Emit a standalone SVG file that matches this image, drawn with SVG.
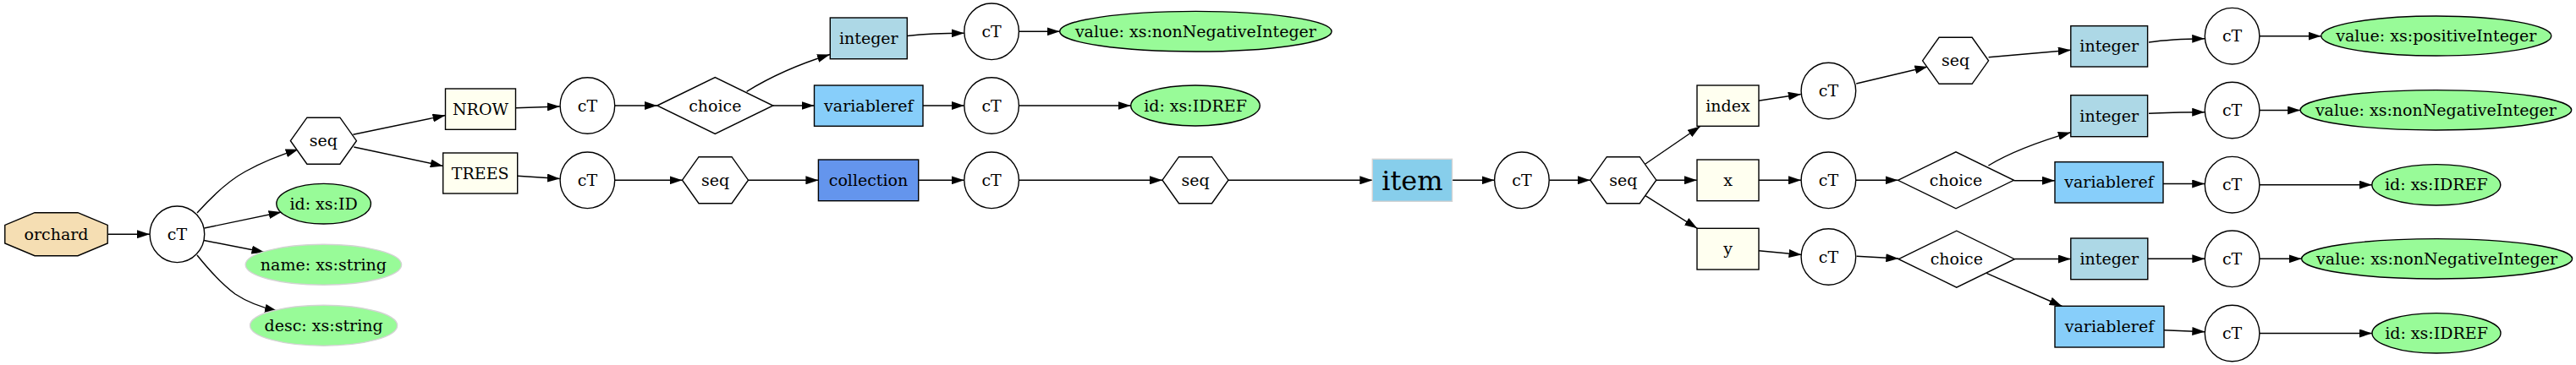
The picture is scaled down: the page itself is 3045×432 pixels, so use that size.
<svg xmlns="http://www.w3.org/2000/svg" width="3045" height="432" viewBox="0 0 3045 432">
<style>
.s{stroke:#000;stroke-width:1.4;fill:#fff}
.g{fill:#98fb98;stroke:#000;stroke-width:1.4}
.go{fill:#98fb98;stroke:#d3d3d3;stroke-width:1.4}
.iv{fill:#fffff0;stroke:#000;stroke-width:1.4}
.lb{fill:#add8e6;stroke:#000;stroke-width:1.4}
.sk{fill:#87cefa;stroke:#000;stroke-width:1.4}
.cf{fill:#6495ed;stroke:#000;stroke-width:1.4}
.it{fill:#87ceeb;stroke:#d3d3d3;stroke-width:1.4}
.wh{fill:#f5deb3;stroke:#000;stroke-width:1.4}
text{font-family:"DejaVu Serif","Liberation Serif",serif;font-size:19px;text-anchor:middle;fill:#000}
.big{font-size:32px}
#edges path{fill:none;stroke:#000;stroke-width:1.4;marker-end:url(#a)}
</style>
<defs>
<marker id="a" viewBox="0 0 15 10" refX="15" refY="5" markerWidth="15" markerHeight="10" markerUnits="userSpaceOnUse" orient="auto">
<path d="M0,0 L15,5 L0,10 z" fill="#000"/>
</marker>
</defs>
<rect width="3045" height="432" fill="#fff"/>
<g id="edges">
<path d="M127.5,277.2 L177,277.2"/>
<path d="M233,252 C250,233 268,215 290,203 C308,193 330,184 352.7,176.7"/>
<path d="M241.5,270 L332.6,251"/>
<path d="M241,284.5 L312.5,298.5"/>
<path d="M233,302 C249,322 262,336 278,348 C293,358 310,364 328,368.3"/>
<path d="M417.4,159.3 L526.5,136.5"/>
<path d="M418.3,174 L523.7,196.5"/>
<path d="M609.5,127.7 L661.8,126"/>
<path d="M611.8,208.3 L661.8,211.5"/>
<path d="M727,125 L776.8,125"/>
<path d="M727,213.3 L806.5,213.3"/>
<path d="M882.6,108.3 Q925,82 981,64.5"/>
<path d="M913.8,125 L962.5,125"/>
<path d="M884.5,213.3 L967.4,213.3"/>
<path d="M1072.3,42.5 C1095,40 1115,39.3 1139.7,39.3"/>
<path d="M1091,125 L1139.7,125"/>
<path d="M1085.7,213.3 L1139.7,213.3"/>
<path d="M1204.5,37.3 L1252.7,37.3"/>
<path d="M1204.5,125 L1336.6,125"/>
<path d="M1204.5,213.3 L1374,213.3"/>
<path d="M1452,213.3 L1622.3,213.3"/>
<path d="M1716.5,213.3 L1766.5,213.3"/>
<path d="M1831.3,213.3 L1879.8,213.3"/>
<path d="M1945,194 L2009.8,149.5"/>
<path d="M1957.8,213.3 L2005.8,213.3"/>
<path d="M1945,231.7 L2006.3,270.3"/>
<path d="M2078.6,119.3 L2128.8,111.5"/>
<path d="M2079,213.3 L2129,213.3"/>
<path d="M2079,296.7 L2129.5,301.5"/>
<path d="M2194.2,99 L2278.5,79"/>
<path d="M2193.8,213.3 L2243.5,213.3"/>
<path d="M2194.6,303.3 L2244.3,306"/>
<path d="M2350.6,67.7 L2447.8,59.3"/>
<path d="M2350.4,196 C2372,183 2402,170 2447.8,156.7"/>
<path d="M2380.5,213.8 L2429,213.8"/>
<path d="M2381.3,306.5 L2447.8,306.5"/>
<path d="M2348.3,323.3 L2437.5,362.5"/>
<path d="M2540,50 C2560,47 2580,46 2606.2,45.7"/>
<path d="M2540,134.3 C2560,133 2580,132.7 2606.2,132.7"/>
<path d="M2557,217.5 L2606.2,217.5"/>
<path d="M2538.8,306.3 L2606.3,306.3"/>
<path d="M2558.1,390.7 L2606.3,392.7"/>
<path d="M2670.9,42.7 L2743.7,42.7"/>
<path d="M2670.9,130.5 L2719.1,130.5"/>
<path d="M2670.9,218.7 L2803.9,218.7"/>
<path d="M2670.8,306.3 L2720.7,306.3"/>
<path d="M2670.8,394.5 L2804,394.5"/>
</g>
<g id="n1"><polygon class="wh" points="41,251.7 92,251.7 127.2,266.4 127.2,288 92,302.7 41,302.7 5.8,288 5.8,266.4"/><text x="66.5" y="283.7">orchard</text></g>
<g id="n2"><ellipse class="s" cx="209.4" cy="277.3" rx="32.3" ry="33.3"/><text x="209.4" y="283.8">cT</text></g>
<g id="n3"><polygon class="s" points="343.4,166.7 362.9,139.2 401.9,139.2 421.4,166.7 401.9,194.2 362.9,194.2"/><text x="382.4" y="173.2">seq</text></g>
<g id="n4"><ellipse class="g" cx="382.6" cy="241.2" rx="55.8" ry="23.8"/><text x="382.6" y="247.7">id: xs:ID</text></g>
<g id="n5"><ellipse class="go" cx="382.4" cy="313.3" rx="92.2" ry="24"/><text x="382.4" y="319.8">name: xs:string</text></g>
<g id="n6"><ellipse class="go" cx="382.6" cy="385.2" rx="87" ry="24"/><text x="382.6" y="391.7">desc: xs:string</text></g>
<g id="n7"><rect class="iv" x="526.5" y="105" width="83" height="48.3"/><text x="568" y="135.7">NROW</text></g>
<g id="n8"><rect class="iv" x="523.7" y="181" width="88" height="48"/><text x="567.7" y="211.5">TREES</text></g>
<g id="n9"><ellipse class="s" cx="694.4" cy="125" rx="32.3" ry="33.3"/><text x="694.4" y="131.5">cT</text></g>
<g id="n10"><ellipse class="s" cx="694.4" cy="213.3" rx="32.3" ry="33.3"/><text x="694.4" y="219.8">cT</text></g>
<g id="n11"><polygon class="s" points="776.8,125 845.3,91.5 913.8,125 845.3,158.5"/><text x="845.3" y="131.5">choice</text></g>
<g id="n12"><polygon class="s" points="806.5,213.2 826,185.7 865,185.7 884.5,213.2 865,240.7 826,240.7"/><text x="845.5" y="219.7">seq</text></g>
<g id="n13"><rect class="lb" x="981.3" y="21" width="91" height="48.7"/><text x="1026.8" y="51.8">integer</text></g>
<g id="n14"><rect class="sk" x="962.5" y="101" width="128.5" height="48.3"/><text x="1026.8" y="131.7">variableref</text></g>
<g id="n15"><rect class="cf" x="967.4" y="189" width="118.3" height="48.7"/><text x="1026.5" y="219.8">collection</text></g>
<g id="n16"><ellipse class="s" cx="1172.1" cy="37.3" rx="32.3" ry="33.3"/><text x="1172.1" y="43.8">cT</text></g>
<g id="n17"><ellipse class="s" cx="1172.1" cy="125" rx="32.3" ry="33.3"/><text x="1172.1" y="131.5">cT</text></g>
<g id="n18"><ellipse class="s" cx="1172.1" cy="213.3" rx="32.3" ry="33.3"/><text x="1172.1" y="219.8">cT</text></g>
<g id="n19"><ellipse class="g" cx="1413.4" cy="37.2" rx="160.7" ry="23.8"/><text x="1413.4" y="43.7">value: xs:nonNegativeInteger</text></g>
<g id="n20"><ellipse class="g" cx="1413" cy="125" rx="76.3" ry="24"/><text x="1413" y="131.5">id: xs:IDREF</text></g>
<g id="n21"><polygon class="s" points="1374,213.2 1393.5,185.7 1432.5,185.7 1452,213.2 1432.5,240.7 1393.5,240.7"/><text x="1413" y="219.7">seq</text></g>
<g id="n22"><rect class="it" x="1622.3" y="188.3" width="94.2" height="50"/><text class="big" x="1669.4" y="224.5">item</text></g>
<g id="n23"><ellipse class="s" cx="1798.9" cy="213.3" rx="32.3" ry="33.3"/><text x="1798.9" y="219.8">cT</text></g>
<g id="n24"><polygon class="s" points="1879.8,213.2 1899.3,185.7 1938.3,185.7 1957.8,213.2 1938.3,240.7 1899.3,240.7"/><text x="1918.8" y="219.7">seq</text></g>
<g id="n25"><rect class="iv" x="2006" y="101" width="73" height="48.3"/><text x="2042.5" y="131.7">index</text></g>
<g id="n26"><rect class="iv" x="2006" y="189" width="73" height="48.7"/><text x="2042.5" y="219.8">x</text></g>
<g id="n27"><rect class="iv" x="2006" y="270.3" width="73" height="48.7"/><text x="2042.5" y="301.1">y</text></g>
<g id="n28"><ellipse class="s" cx="2161.4" cy="107.5" rx="32.3" ry="33.3"/><text x="2161.4" y="114">cT</text></g>
<g id="n29"><ellipse class="s" cx="2161.4" cy="213.3" rx="32.3" ry="33.3"/><text x="2161.4" y="219.8">cT</text></g>
<g id="n30"><ellipse class="s" cx="2161.4" cy="304" rx="32.3" ry="33.3"/><text x="2161.4" y="310.5">cT</text></g>
<g id="n31"><polygon class="s" points="2272.6,71.8 2292.1,44.3 2331.1,44.3 2350.6,71.8 2331.1,99.3 2292.1,99.3"/><text x="2311.6" y="78.3">seq</text></g>
<g id="n32"><polygon class="s" points="2243.5,213.3 2312,179.8 2380.5,213.3 2312,246.8"/><text x="2312" y="219.8">choice</text></g>
<g id="n33"><polygon class="s" points="2244.3,306.7 2312.8,273.2 2381.3,306.7 2312.8,340.2"/><text x="2312.8" y="313.2">choice</text></g>
<g id="n34"><rect class="lb" x="2447.8" y="30.7" width="90.8" height="48.3"/><text x="2493.2" y="61.3">integer</text></g>
<g id="n35"><rect class="lb" x="2447.8" y="112.7" width="90.8" height="49"/><text x="2493.2" y="143.7">integer</text></g>
<g id="n36"><rect class="sk" x="2429" y="191.7" width="128" height="48.3"/><text x="2493" y="222.3">variableref</text></g>
<g id="n37"><rect class="lb" x="2447.8" y="282" width="91" height="48.7"/><text x="2493.3" y="312.8">integer</text></g>
<g id="n38"><rect class="sk" x="2429" y="362.3" width="129" height="48.7"/><text x="2493.5" y="393.2">variableref</text></g>
<g id="n39"><ellipse class="s" cx="2638.6" cy="42.7" rx="32.3" ry="33.3"/><text x="2638.6" y="49.2">cT</text></g>
<g id="n40"><ellipse class="s" cx="2638.6" cy="130.5" rx="32.3" ry="33.3"/><text x="2638.6" y="137">cT</text></g>
<g id="n41"><ellipse class="s" cx="2638.6" cy="218.7" rx="32.3" ry="33.3"/><text x="2638.6" y="225.2">cT</text></g>
<g id="n42"><ellipse class="s" cx="2638.6" cy="306.3" rx="32.3" ry="33.3"/><text x="2638.6" y="312.8">cT</text></g>
<g id="n43"><ellipse class="s" cx="2638.6" cy="394.5" rx="32.3" ry="33.3"/><text x="2638.6" y="401">cT</text></g>
<g id="n44"><ellipse class="g" cx="2879.8" cy="42.5" rx="136" ry="23.5"/><text x="2879.8" y="49">value: xs:positiveInteger</text></g>
<g id="n45"><ellipse class="g" cx="2879.4" cy="130.3" rx="160.3" ry="23.7"/><text x="2879.4" y="136.8">value: xs:nonNegativeInteger</text></g>
<g id="n46"><ellipse class="g" cx="2879.8" cy="218.8" rx="76" ry="24.2"/><text x="2879.8" y="225.3">id: xs:IDREF</text></g>
<g id="n47"><ellipse class="g" cx="2880.6" cy="306.3" rx="160" ry="23.7"/><text x="2880.6" y="312.8">value: xs:nonNegativeInteger</text></g>
<g id="n48"><ellipse class="g" cx="2880" cy="394.3" rx="76" ry="23.7"/><text x="2880" y="400.8">id: xs:IDREF</text></g>
</svg>
